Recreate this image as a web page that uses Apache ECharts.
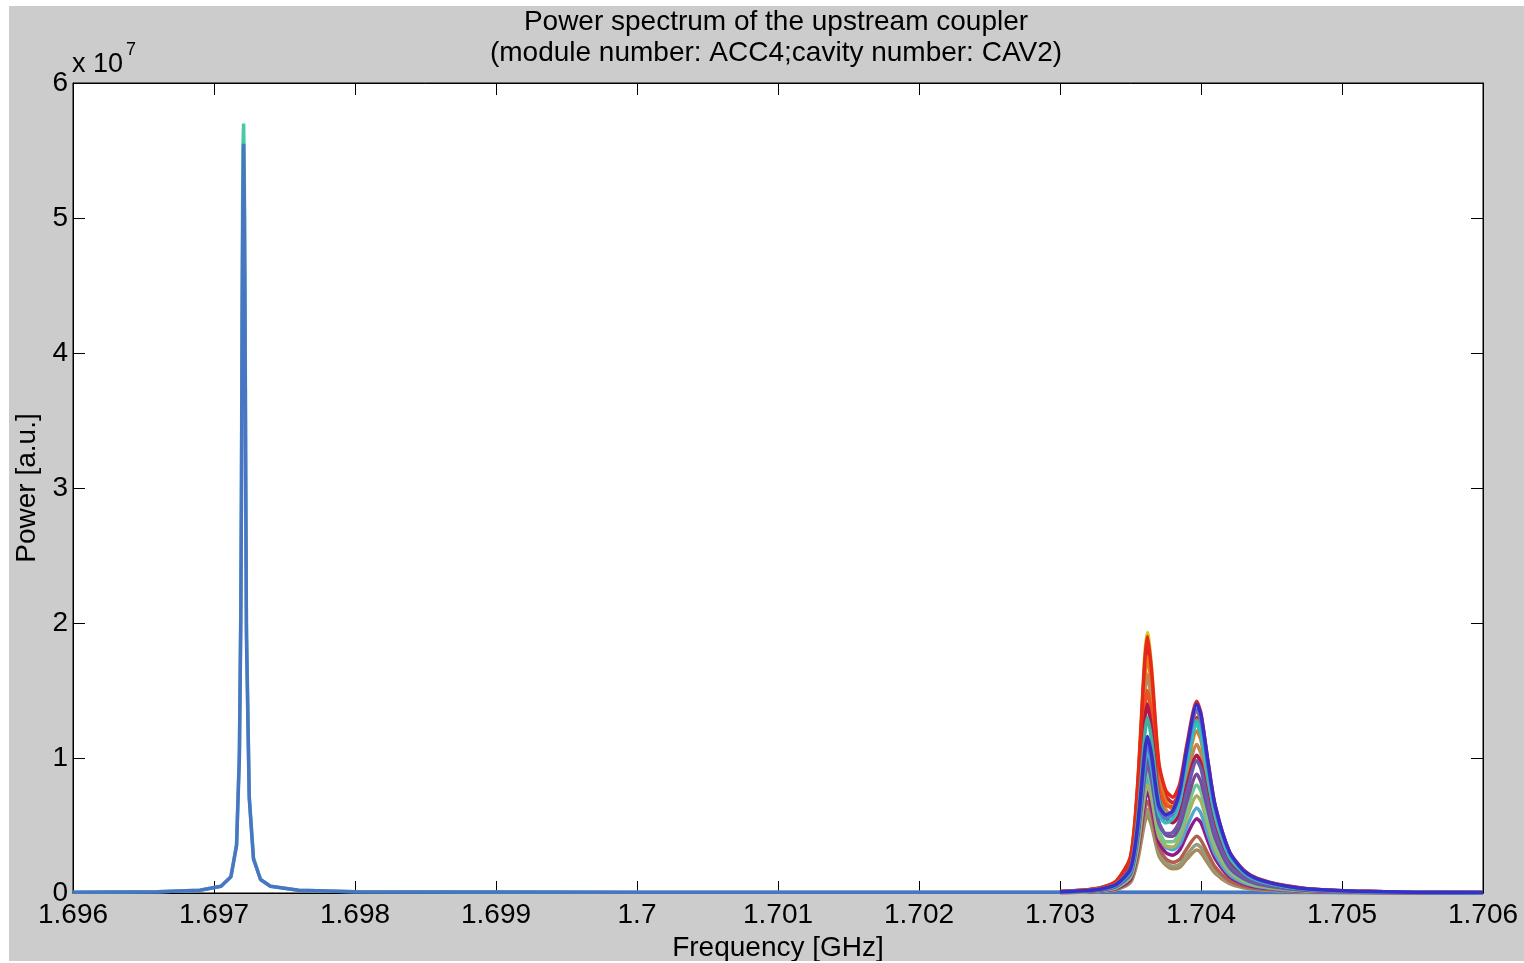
<!DOCTYPE html>
<html>
<head>
<meta charset="utf-8">
<script src="https://cdn.jsdelivr.net/npm/echarts@6/dist/echarts.min.js"></script>
<style>
html,body{margin:0;padding:0;background:#ffffff;width:1524px;height:963px;overflow:hidden;}
#c{position:absolute;left:9px;top:6px;width:1515px;height:955px;}
</style>
</head>
<body>
<div id="c"></div>
<script>
// ---- Data (power in units of 1e7, frequency in GHz) ----
const titleLines = ['Power spectrum of the upstream coupler', '(module number: ACC4;cavity number: CAV2)'];
const xTitle = 'Frequency [GHz]';
const yTitle = 'Power [a.u.]';
const yExponent = '7';

// Left (1.6972 GHz) peak
const leftFreq = [1.696, 1.6966, 1.6969, 1.69705, 1.69712, 1.69716, 1.69718, 1.69719, 1.697195, 1.6972, 1.697205, 1.69721, 1.697215, 1.69722, 1.697225, 1.69723, 1.69725, 1.69728, 1.69733, 1.6974, 1.6976, 1.698, 1.700, 1.703, 1.706];
const leftTeal = [0.005, 0.01, 0.02, 0.05, 0.12, 0.36, 1.05, 2.1, 3.1, 4.6, 5.5, 5.7, 5.3, 4.5, 3.1, 2.0, 0.72, 0.26, 0.1, 0.05, 0.02, 0.01, 0.005, 0.005, 0.003];
const leftBlue = [0.005, 0.01, 0.02, 0.05, 0.12, 0.35, 1.0, 2.0, 3.0, 4.3, 5.1, 5.55, 5.1, 4.2, 3.0, 1.9, 0.7, 0.25, 0.1, 0.05, 0.02, 0.01, 0.005, 0.005, 0.003];

// Right (1.7036 / 1.7040 GHz) double-peak cluster
const clusterFreq = [1.7030, 1.7032, 1.7033, 1.7034, 1.7035, 1.70355, 1.7036, 1.70362, 1.70365, 1.7037, 1.70375, 1.7038, 1.70385, 1.7039, 1.70397, 1.7040, 1.70405, 1.7041, 1.7042, 1.7043, 1.7044, 1.7046, 1.7048, 1.7051, 1.7055, 1.706];
const c01 = [0.010, 0.024, 0.042, 0.088, 0.27, 0.80, 1.74, 1.93, 1.66, 0.97, 0.73, 0.66, 0.73, 0.98, 1.25, 1.17, 0.86, 0.58, 0.28, 0.154, 0.097, 0.049, 0.025, 0.013, 0.006, 0.002];
const c03 = [0.010, 0.024, 0.041, 0.086, 0.26, 0.76, 1.66, 1.85, 1.59, 0.93, 0.72, 0.67, 0.75, 1.01, 1.30, 1.21, 0.89, 0.60, 0.29, 0.159, 0.099, 0.050, 0.025, 0.013, 0.006, 0.002];
const c04 = [0.010, 0.022, 0.039, 0.081, 0.24, 0.72, 1.57, 1.75, 1.51, 0.88, 0.68, 0.62, 0.70, 0.94, 1.20, 1.13, 0.83, 0.56, 0.27, 0.148, 0.093, 0.047, 0.024, 0.012, 0.005, 0.002];
const c05 = [0.009, 0.021, 0.036, 0.075, 0.23, 0.67, 1.46, 1.62, 1.40, 0.82, 0.62, 0.57, 0.64, 0.86, 1.10, 1.03, 0.76, 0.51, 0.24, 0.135, 0.085, 0.043, 0.022, 0.011, 0.005, 0.002];
const c18 = [0.009, 0.022, 0.037, 0.075, 0.22, 0.63, 1.35, 1.50, 1.31, 0.79, 0.65, 0.64, 0.76, 1.05, 1.35, 1.27, 0.93, 0.63, 0.30, 0.164, 0.102, 0.051, 0.027, 0.013, 0.006, 0.003];
const c06 = [0.008, 0.018, 0.032, 0.066, 0.20, 0.58, 1.26, 1.40, 1.21, 0.71, 0.56, 0.52, 0.59, 0.80, 1.02, 0.96, 0.70, 0.47, 0.23, 0.126, 0.079, 0.039, 0.021, 0.010, 0.005, 0.002];
const c02 = [0.011, 0.025, 0.043, 0.090, 0.27, 0.79, 1.70, 1.90, 1.64, 0.97, 0.76, 0.71, 0.81, 1.10, 1.42, 1.33, 0.97, 0.65, 0.31, 0.173, 0.109, 0.055, 0.028, 0.014, 0.006, 0.003];
const c16 = [0.003, 0.007, 0.012, 0.025, 0.078, 0.237, 0.518, 0.576, 0.494, 0.28, 0.207, 0.179, 0.191, 0.251, 0.318, 0.297, 0.218, 0.147, 0.071, 0.039, 0.025, 0.013, 0.0065, 0.003, 0.0014, 0.0006];
const c15 = [0.003, 0.007, 0.013, 0.027, 0.084, 0.255, 0.556, 0.62, 0.53, 0.305, 0.226, 0.198, 0.214, 0.283, 0.36, 0.336, 0.247, 0.166, 0.080, 0.045, 0.028, 0.014, 0.007, 0.004, 0.0015, 0.001];
const c14 = [0.004, 0.008, 0.015, 0.031, 0.094, 0.28, 0.615, 0.68, 0.59, 0.34, 0.255, 0.227, 0.25, 0.33, 0.42, 0.39, 0.29, 0.194, 0.093, 0.052, 0.033, 0.017, 0.0085, 0.004, 0.002, 0.001];
const c13 = [0.004, 0.010, 0.017, 0.035, 0.105, 0.31, 0.67, 0.75, 0.64, 0.38, 0.30, 0.28, 0.32, 0.43, 0.55, 0.52, 0.38, 0.255, 0.122, 0.068, 0.042, 0.022, 0.011, 0.005, 0.002, 0.001];
const c19 = [0.005, 0.011, 0.019, 0.040, 0.12, 0.35, 0.77, 0.85, 0.74, 0.43, 0.34, 0.32, 0.36, 0.49, 0.63, 0.59, 0.43, 0.29, 0.138, 0.076, 0.048, 0.024, 0.013, 0.006, 0.003, 0.001];
const c12 = [0.005, 0.012, 0.020, 0.040, 0.12, 0.33, 0.72, 0.80, 0.70, 0.42, 0.35, 0.34, 0.41, 0.56, 0.72, 0.68, 0.50, 0.33, 0.16, 0.088, 0.054, 0.028, 0.014, 0.007, 0.003, 0.001];
const c11 = [0.006, 0.013, 0.022, 0.044, 0.13, 0.37, 0.81, 0.90, 0.78, 0.47, 0.38, 0.38, 0.45, 0.62, 0.80, 0.75, 0.55, 0.37, 0.175, 0.097, 0.060, 0.030, 0.016, 0.008, 0.004, 0.002];
const c20 = [0.006, 0.014, 0.024, 0.050, 0.15, 0.42, 0.90, 1.00, 0.87, 0.53, 0.43, 0.42, 0.50, 0.68, 0.88, 0.82, 0.61, 0.41, 0.19, 0.107, 0.067, 0.034, 0.017, 0.008, 0.004, 0.002];
const c10 = [0.006, 0.015, 0.024, 0.050, 0.14, 0.40, 0.85, 0.95, 0.83, 0.52, 0.44, 0.45, 0.54, 0.75, 0.98, 0.92, 0.67, 0.45, 0.21, 0.118, 0.073, 0.037, 0.019, 0.009, 0.004, 0.002];
const c17 = [0.009, 0.019, 0.033, 0.067, 0.19, 0.54, 1.16, 1.30, 1.13, 0.70, 0.58, 0.59, 0.71, 0.98, 1.28, 1.20, 0.88, 0.59, 0.28, 0.155, 0.096, 0.048, 0.025, 0.012, 0.005, 0.002];
const c09 = [0.008, 0.017, 0.029, 0.058, 0.16, 0.45, 0.95, 1.05, 0.93, 0.59, 0.52, 0.55, 0.68, 0.96, 1.25, 1.17, 0.86, 0.58, 0.27, 0.151, 0.094, 0.047, 0.024, 0.012, 0.005, 0.002];
const c08 = [0.008, 0.018, 0.031, 0.061, 0.17, 0.47, 0.99, 1.10, 0.97, 0.63, 0.55, 0.59, 0.74, 1.04, 1.36, 1.28, 0.94, 0.63, 0.30, 0.164, 0.102, 0.051, 0.026, 0.013, 0.006, 0.003];
const c07 = [0.009, 0.019, 0.032, 0.064, 0.18, 0.49, 1.04, 1.16, 1.02, 0.65, 0.58, 0.61, 0.76, 1.07, 1.40, 1.32, 0.97, 0.65, 0.31, 0.168, 0.105, 0.052, 0.027, 0.013, 0.006, 0.003];

const clusterSeries = [c01, c03, c04, c05, c18, c06, c02, c16, c15, c14, c13, c19, c12, c11, c20, c10, c17, c09, c08, c07];
const clusterColors = ['#d8c820', '#c8283c', '#e8781c', '#c08850', '#f05020', '#b01848', '#e82818', '#a88a5a', '#98987a', '#b0604c', '#8c1c8c', '#50a8d0', '#a8b060', '#70c890', '#7a4a9a', '#6a5aa8', '#40b0a0', '#2cc0c0', '#5a78c8', '#3a2ec8'];

// Axis settings
const xMin = 1.696, xMax = 1.706, xStep = 0.001;
const yMin = 0, yMax = 6, yStep = 1;

// ---- Chart ----
const FONT = '"Liberation Sans", Arial, Helvetica, sans-serif';
const chart = echarts.init(document.getElementById('c'), null, {renderer: 'canvas'});

function pairs(xs, ys) { return xs.map((x, i) => [x, ys[i]]); }

const series = [];
series.push({type: 'line', data: pairs(leftFreq, leftTeal), showSymbol: false, symbol: 'none',
  lineStyle: {color: '#48c8a8', width: 3.5}, itemStyle: {color: '#48c8a8'}, silent: true});
series.push({type: 'line', data: pairs(leftFreq, leftBlue), showSymbol: false, symbol: 'none',
  lineStyle: {color: '#4a74c4', width: 3.5}, itemStyle: {color: '#4a74c4'}, silent: true});
clusterSeries.forEach((vals, k) => {
  series.push({type: 'line', data: pairs(clusterFreq, vals), showSymbol: false, symbol: 'none', smooth: 0.25,
    lineStyle: {color: clusterColors[k], width: 3.5}, itemStyle: {color: clusterColors[k]}, silent: true});
});

const xLabelFmt = v => {
  let s = Number(v).toFixed(3);
  s = s.replace(/0+$/, '').replace(/\.$/, '');
  return s;
};

const axisCommon = {
  axisLine: {show: true, onZero: false, lineStyle: {color: '#000', width: 1}},
  axisTick: {show: true, inside: true, length: 12, lineStyle: {color: '#000', width: 1}},
  splitLine: {show: false}
};

chart.setOption({
  animation: false,
  backgroundColor: '#cccccc',
  textStyle: {fontFamily: FONT},
  grid: {left: 64, top: 77, right: 41, bottom: 68, show: true, backgroundColor: '#ffffff', borderColor: '#000', borderWidth: 1,
    containLabel: false, outerBoundsMode: 'none'},
  xAxis: [
    Object.assign({type: 'value', min: xMin, max: xMax, interval: xStep, position: 'bottom',
      axisLabel: {color: '#000', fontSize: 28, fontFamily: FONT, margin: 8, formatter: xLabelFmt, showMinLabel: true, showMaxLabel: true},
      name: xTitle, nameLocation: 'middle', nameGap: 40,
      nameTextStyle: {color: '#000', fontSize: 28, fontFamily: FONT}}, axisCommon),
    Object.assign({type: 'value', min: xMin, max: xMax, interval: xStep, position: 'top',
      axisLabel: {show: false}}, axisCommon)
  ],
  yAxis: [
    Object.assign({type: 'value', min: yMin, max: yMax, interval: yStep, position: 'left',
      axisLabel: {color: '#000', fontSize: 28, fontFamily: FONT, margin: 5, showMinLabel: true, showMaxLabel: true},
      name: yTitle, nameLocation: 'middle', nameGap: 32, nameRotate: 90,
      nameTextStyle: {color: '#000', fontSize: 28, fontFamily: FONT}}, axisCommon),
    Object.assign({type: 'value', min: yMin, max: yMax, interval: yStep, position: 'right',
      axisLabel: {show: false}}, axisCommon)
  ],
  graphic: [
    {type: 'text', x: 767, y: 1, silent: true,
      style: {text: titleLines.join('\n'), fill: '#000', fontSize: 28, fontFamily: FONT,
        lineHeight: 31, align: 'center', verticalAlign: 'top'}},
    {type: 'text', x: 63, y: 45, silent: true,
      style: {text: 'x 10', fill: '#000', fontSize: 27, fontFamily: FONT, verticalAlign: 'top'}},
    {type: 'text', x: 117, y: 35, silent: true,
      style: {text: yExponent, fill: '#000', fontSize: 18, fontFamily: FONT, verticalAlign: 'top'}}
  ],
  series: series
});
</script>
</body>
</html>
